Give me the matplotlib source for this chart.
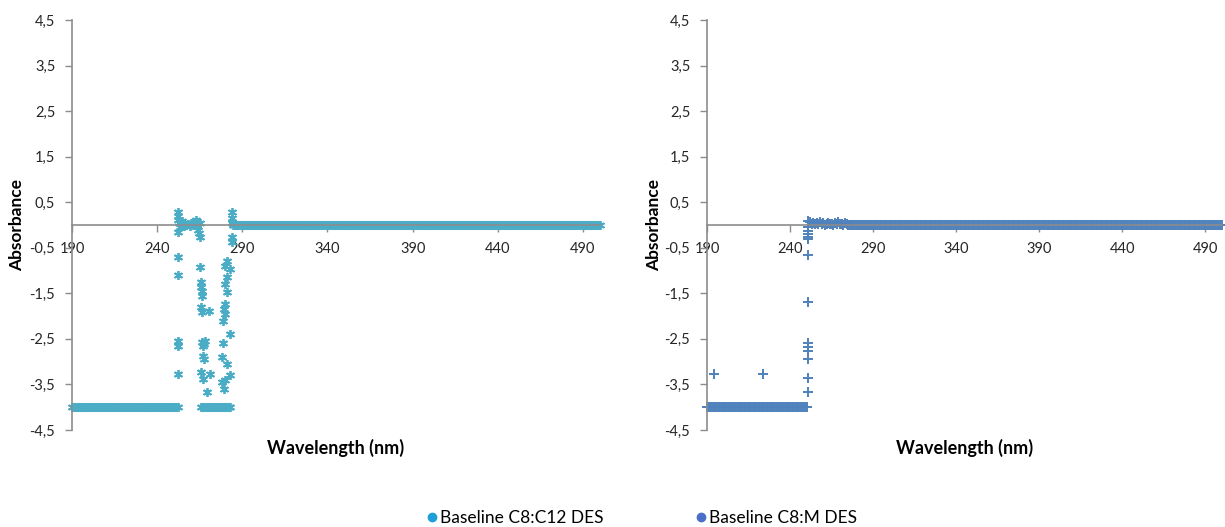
import numpy as np
import matplotlib.pyplot as plt
from matplotlib.lines import Line2D
from matplotlib.ticker import FuncFormatter

plt.rcParams['font.family'] = ['Lato', 'DejaVu Sans']

# ---- data ----
FLOOR = -4.0

# Baseline C8:C12 DES
c12_floor_wl = list(range(190, 253)) + list(range(266, 284))
c12_flat_wl = list(range(285, 501))
c12_wl = [252.5, 252.5, 252.5, 252.5, 252.5, 252.2, 252.5, 252.5, 252.3,
          253, 253.5, 254, 254.5, 255, 255.5, 256, 257, 258, 259, 260,
          261, 262, 263, 263.5, 264, 264.5, 265, 265,
          265.3, 265.5, 266, 266.3, 266.5, 265.8, 266.5, 270.5, 266.5, 267.5,
          268, 267, 267, 267.5, 266, 267, 271, 269.5,
          284, 284, 284, 284.5, 284, 284, 281, 280, 283, 281, 280, 281,
          280, 279, 280, 278.5, 282.5, 278.5, 278, 281, 283, 280, 278, 279.5]
c12_abs = [0.28, 0.2, 0.12, -0.15, -0.7, -1.1, -2.55, -2.65, -3.27,
           0.05, -0.05, 0.02, 0.08, 0.0, -0.03, 0.05, 0.0, 0.02, -0.02, 0.04,
           0.0, 0.06, 0.1, 0.0, -0.1, -0.18, 0.05, -0.27,
           -0.92, -1.25, -1.35, -1.45, -1.55, -1.8, -1.9, -1.88, -2.57, -2.62,
           -2.55, -2.65, -2.87, -2.94, -3.22, -3.38, -3.27, -3.66,
           0.28, 0.15, 0.05, 0.0, -0.27, -0.37, -0.8, -0.9, -0.96, -1.15, -1.3, -1.48,
           -1.73, -1.85, -1.95, -2.1, -2.39, -2.6, -2.9, -3.05, -3.3, -3.4, -3.45, -3.6]

# Baseline C8:M DES
m_floor_wl = list(range(190, 251))
m_flat_wl = list(range(276, 501))
m_wl = [194, 223.5,
        250.5, 250.5, 250.5, 250.5, 250.5, 250.5, 250.5, 250.5, 250.5, 250.5,
        250.5, 250.5, 250.5,
        251, 252, 253, 254, 255, 256, 257, 258, 259, 260, 261, 262, 263,
        264, 265, 266, 267, 268, 269, 270, 271, 272, 273, 274, 275]
m_abs = [-3.28, -3.28,
         -0.05, -0.13, -0.2, -0.27, -0.3, -0.66, -1.68, -2.6, -2.68, -2.76,
         -2.95, -3.35, -3.66,
         0.09, 0.06, 0.03, 0.05, 0.02, 0.04, 0.03, 0.06, 0.02, 0.04, 0.01, 0.03, 0.05,
         0.02, 0.03, 0.01, 0.04, 0.02, 0.06, 0.02, 0.03, 0.01, 0.04, 0.02, 0.01]

x_ticks = [190, 240, 290, 340, 390, 440, 490]
series_names = ['Baseline C8:C12 DES', 'Baseline C8:M DES']
c12_color = '#4BACC6'
m_color = '#4F81BD'
legend_colors = ['#1E9FD8', '#4A6FC9']

W, H = 1225, 527
fig = plt.figure(figsize=(W / 100, H / 100), dpi=100)

star = (6, 2, 0)
star_kw = dict(linestyle='none', marker=star, markersize=6.5, color=c12_color,
               markeredgewidth=1.3, clip_on=False)
plus_kw = dict(linestyle='none', marker='+', markersize=7, color=m_color,
               markeredgewidth=1.4, clip_on=False)


def setup_axes(ax):
    ax.set_xlim(190, 500)
    ax.set_ylim(-4.5, 4.5)
    ax.spines['top'].set_visible(False)
    ax.spines['right'].set_visible(False)
    ax.spines['bottom'].set_position(('data', 0))
    for s in ['left', 'bottom']:
        ax.spines[s].set_color('#8C8C8C')
        ax.spines[s].set_linewidth(1.2)
    ax.set_xticks(x_ticks)
    ax.set_yticks(np.arange(-4.5, 4.6, 1))
    ax.yaxis.set_major_formatter(FuncFormatter(lambda v, p: ('%.1f' % v).replace('.', ',')))
    ax.tick_params(axis='both', direction='out', length=5, width=1, color='#8C8C8C',
                   labelsize=10.5, labelcolor='#262626')
    ax.tick_params(axis='y', pad=7)
    ax.tick_params(axis='x', pad=7)
    ax.set_xlabel('Wavelength (nm)', fontsize=13, fontweight='bold')
    ax.set_ylabel('Absorbance', fontsize=12.5, fontweight='bold')
    ax.xaxis.set_label_coords(0.5, -0.022)
    ax.yaxis.set_label_coords(-0.088, 0.5)


# left chart
ax1 = fig.add_axes([72 / W, 1 - 430 / H, 528 / W, 410 / H])
setup_axes(ax1)
ax1.plot(c12_floor_wl, [FLOOR] * len(c12_floor_wl), **star_kw)
ax1.plot(c12_flat_wl, [0.0] * len(c12_flat_wl), **star_kw)
ax1.plot(c12_wl, c12_abs, **star_kw)

# right chart
ax2 = fig.add_axes([707 / W, 1 - 430 / H, 515 / W, 410 / H])
setup_axes(ax2)
ax2.plot(m_floor_wl, [FLOOR] * len(m_floor_wl), **plus_kw)
ax2.plot(m_flat_wl, [0.0] * len(m_flat_wl), **plus_kw)
ax2.plot(m_wl, m_abs, **plus_kw)

handles = [Line2D([], [], linestyle='none', marker='o', markersize=6, color=c)
           for c in legend_colors]
fig.legend(handles, series_names, loc='center', bbox_to_anchor=(641 / W, 1 - 518 / H),
           ncol=2, frameon=False, fontsize=12.5, handletextpad=0.05, columnspacing=5.2,
           handlelength=0.8)

fig.savefig('out.png', dpi=100)
